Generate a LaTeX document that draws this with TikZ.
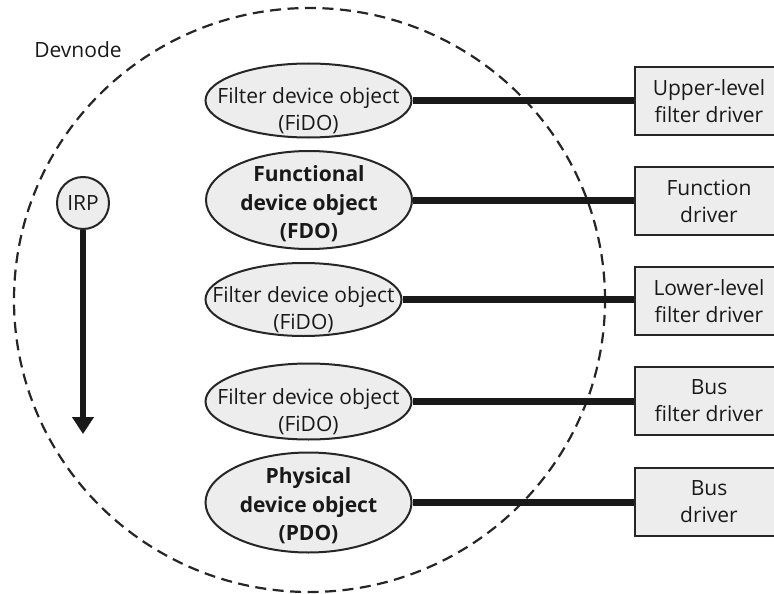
\documentclass[tikz,border=0pt]{standalone}
\usepackage{fontspec}
\setmainfont{Open Sans}
\usetikzlibrary{shapes.geometric,arrows.meta}
\begin{document}
\begin{tikzpicture}[x=1pt,y=-1pt,
  obj/.style={ellipse, draw=black!85, line width=2pt, fill=black!7, inner sep=0pt},
  txt/.style={align=center, font=\fontsize{21}{27}\selectfont, inner sep=0pt, text=black!90},
  drv/.style={rectangle, draw=black!85, line width=2pt, fill=black!7, minimum width=148pt, minimum height=68pt, inner sep=0pt, align=center, font=\fontsize{21}{27}\selectfont, text=black!90},
  link/.style={line width=7pt, black!90},
  devline/.style={line width=2.2pt, black!85, dash pattern=on 11pt off 6.5pt}
]
\useasboundingbox (0,0) rectangle (774,594);
% devnode boundary
\draw[devline] (309.5,300) ellipse [x radius=295.5pt, y radius=292pt];
\node[txt, anchor=center] (devnode) at (78,50) {Devnode};

% device objects
\node[obj, minimum width=206pt, minimum height=74pt] (e1) at (308.5,100.5) {};
\node[obj, minimum width=206pt, minimum height=98pt] (e2) at (309,200) {};
\node[obj, minimum width=196pt, minimum height=73pt] (e3) at (303.5,299.5) {};
\node[obj, minimum width=206pt, minimum height=76pt] (e4) at (308.5,401.5) {};
\node[obj, minimum width=206pt, minimum height=100pt] (e5) at (308.5,502.5) {};

\node[txt] (t1) at (308.5,111) {Filter device object\\(FiDO)};
\node[txt, font=\fontsize{21}{28.5}\selectfont\bfseries] (t2) at (309,204) {Functional\\device object\\(FDO)};
\node[txt] (t3) at (303.5,310) {Filter device object\\(FiDO)};
\node[txt] (t4) at (308.5,412) {Filter device object\\(FiDO)};
\node[txt, font=\fontsize{21}{28.5}\selectfont\bfseries] (t5) at (308.5,506) {Physical\\device object\\(PDO)};

% drivers
\node[drv] (d1) at (709,101) {Upper-level\\filter driver};
\node[drv] (d2) at (709,201) {Function\\driver};
\node[drv] (d3) at (709,301) {Lower-level\\filter driver};
\node[drv] (d4) at (709,401) {Bus\\filter driver};
\node[drv] (d5) at (709,502) {Bus\\driver};

\draw[link] (e1.east) -- (e1.east -| d1.west);
\draw[link] (e2.east) -- (e2.east -| d2.west);
\draw[link] (e3.east) -- (e3.east -| d3.west);
\draw[link] (e4.east) -- (e4.east -| d4.west);
\draw[link] (e5.east) -- (e5.east -| d5.west);

% IRP
\node[circle, draw=black!85, line width=2pt, fill=black!7, minimum size=52pt, inner sep=0pt, font=\fontsize{21}{24}\selectfont, text=black!90] (irp) at (83,203) {IRP};
\coordinate (irpend) at (83,434);
\draw[line width=5.5pt, black!90, -{Triangle[width=21pt,length=17pt]}] (irp.south) -- (irpend);
\end{tikzpicture}
\end{document}
